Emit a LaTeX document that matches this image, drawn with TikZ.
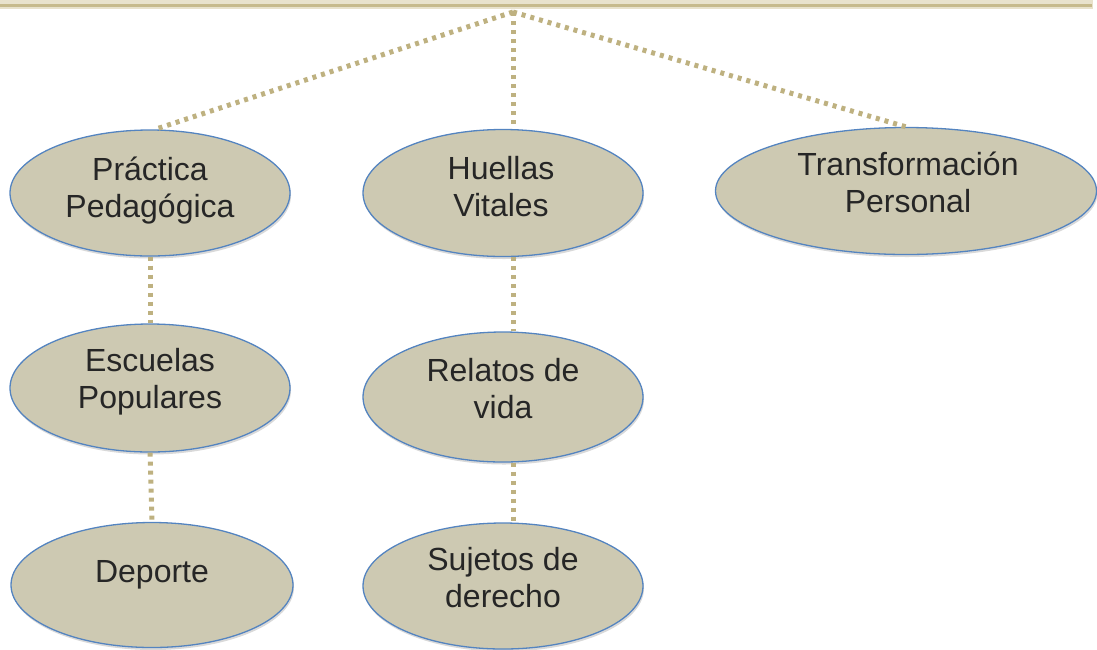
\documentclass[tikz,border=0pt]{standalone}
\usepackage{fontspec}
\setmainfont{Liberation Sans}
\usetikzlibrary{shapes.geometric,shadows}
\definecolor{ellfill}{RGB}{205,201,178}
\definecolor{ellline}{RGB}{84,132,192}
\definecolor{conncol}{RGB}{190,177,128}
\definecolor{barcol}{RGB}{198,186,140}
\definecolor{barlight}{RGB}{232,226,204}
\begin{document}
\begin{tikzpicture}[x=1pt,y=-1pt,
  oval/.style={ellipse, draw=ellline, line width=1.3pt, fill=ellfill, inner sep=0pt,
     drop shadow={shadow xshift=1pt, shadow yshift=-2.5pt, opacity=0.25, fill=black!60}},
  txt/.style={align=center, inner sep=0pt, anchor=base, text=black!85,
     font=\fontsize{32}{37}\selectfont},
  conn/.style={draw=conncol, line width=5pt, dash pattern=on 4pt off 5pt}
]
\useasboundingbox (0,0) rectangle (1097,649);
% top bar
\fill[barlight] (0,0) rectangle (1093,9);
\draw[barcol, line width=3pt] (0,5) -- (1092,5);

% ellipses
\node[oval, minimum width=280pt, minimum height=126pt] (pp) at (150,193) {};
\node[oval, minimum width=280pt, minimum height=127pt] (hv) at (503,193) {};
\node[oval, minimum width=381pt, minimum height=127pt] (tp) at (906,191) {};
\node[oval, minimum width=280pt, minimum height=128pt] (ep) at (150,388) {};
\node[oval, minimum width=280pt, minimum height=130pt] (rv) at (503,397) {};
\node[oval, minimum width=282pt, minimum height=125pt] (de) at (152,585) {};
\node[oval, minimum width=280pt, minimum height=126pt] (sd) at (503,586) {};

% connectors
\coordinate (apex) at (513,12);
\draw[conn] (apex) -- ([xshift=5pt]pp.north);
\draw[conn] (apex) -- (apex |- hv.north);
\draw[conn] (apex) -- (tp.north);
\draw[conn] (pp.south) -- (ep.north);
\draw[conn] (ep.south) -- (de.north);
\draw[conn] (hv.south -| apex) -- (rv.north -| apex);
\draw[conn] (rv.south -| apex) -- (sd.north -| apex);

% texts (base = baseline of last line)
\node[txt] (ppT) at (150,217) {Práctica\\Pedagógica};
\node[txt] (hvT) at (501,216) {Huellas\\Vitales};
\node[txt] (tpT) at (908,212) {Transformación\\Personal};
\node[txt] (epT) at (150,408) {Escuelas\\Populares};
\node[txt] (rvT) at (503,418) {Relatos de\\vida};
\node[txt] (deT) at (152,582) {Deporte};
\node[txt] (sdT) at (503,607) {Sujetos de\\derecho};
\end{tikzpicture}
\end{document}
